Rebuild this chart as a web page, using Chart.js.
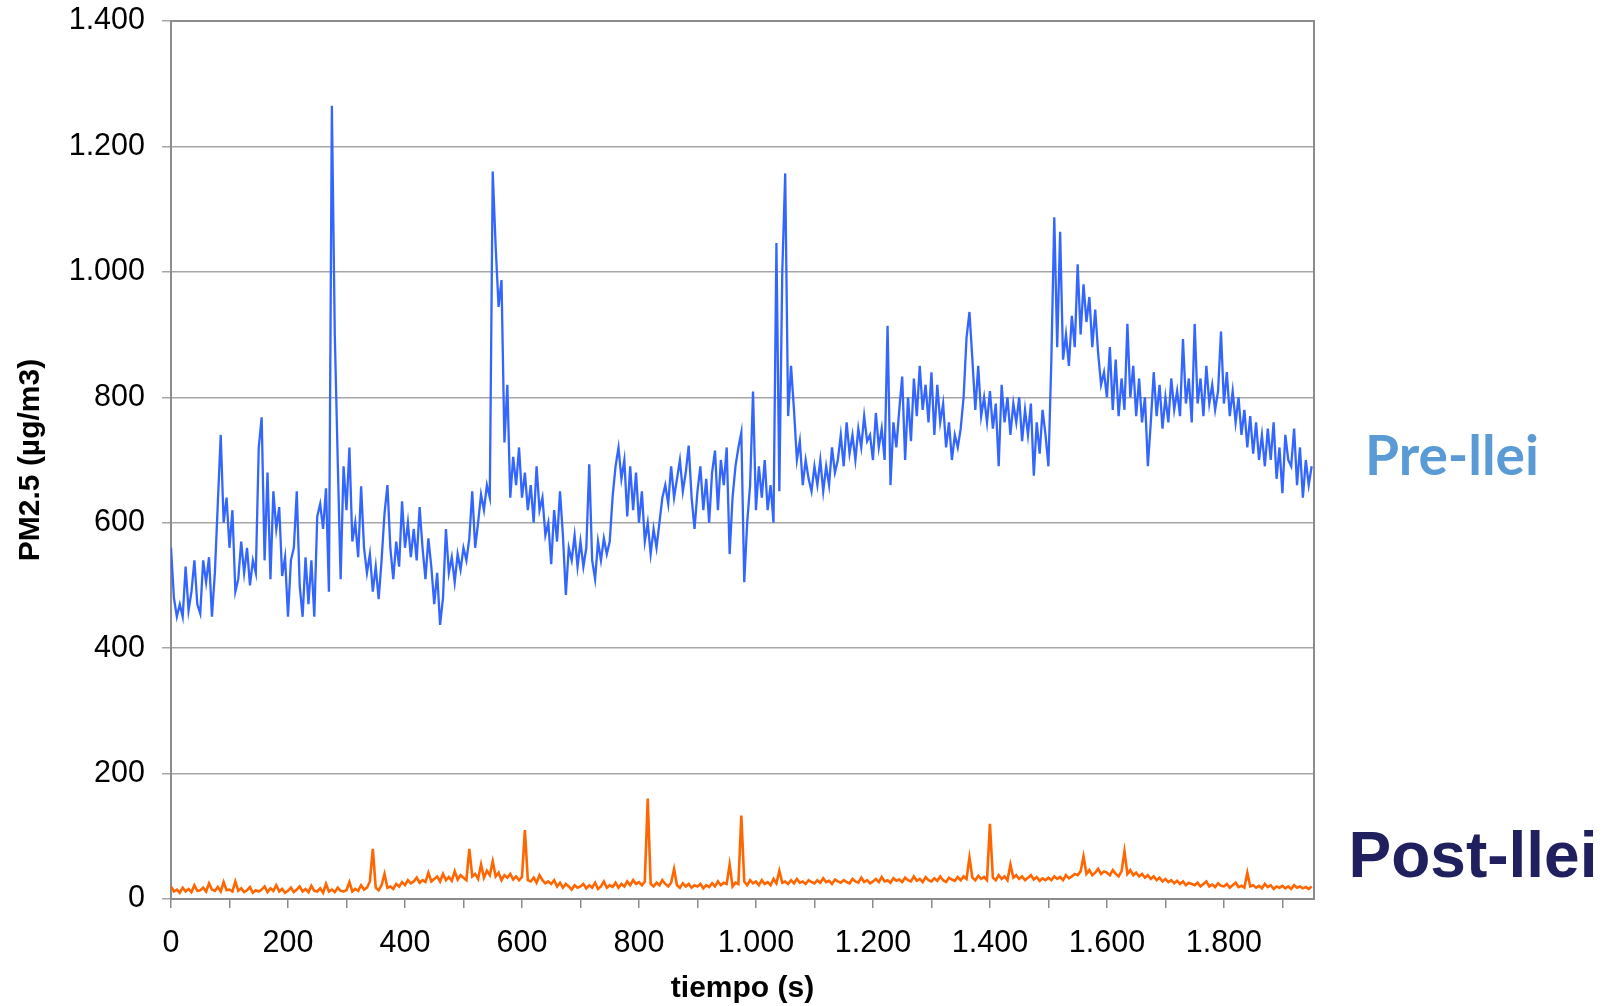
<!DOCTYPE html>
<html>
<head>
<meta charset="utf-8">
<script src="https://cdn.jsdelivr.net/npm/chart.js@4.4.1/dist/chart.umd.min.js"></script>
<style>
body { margin: 0; background: #fff; }
canvas { display: block; }
</style>
</head>
<body>
<canvas id="myChart" width="1612" height="1006"></canvas>
<script>
// seconds between samples
const step = 5

const preLlei = [
	560, 480, 450, 470, 450, 530, 460, 490, 540, 470,
	455, 540, 505, 545, 450, 520, 630, 740, 600, 640,
	560, 620, 490, 510, 570, 520, 560, 500, 540, 520,
	720, 768, 540, 680, 510, 650, 590, 625, 515, 545,
	450, 540, 560, 650, 500, 450, 545, 470, 540, 450,
	610, 630, 590, 655, 490, 1265, 900, 700, 510, 690,
	620, 720, 570, 600, 545, 658, 560, 520, 550, 490,
	530, 478, 540, 615, 660, 560, 510, 570, 530, 634,
	560, 600, 545, 590, 540, 625, 560, 510, 575, 530,
	470, 520, 437, 480, 590, 520, 545, 505, 550, 525,
	560, 540, 575, 650, 560, 600, 645, 620, 660, 640,
	1160, 1041, 944, 987, 728, 820, 640, 705, 660, 720,
	640, 680, 620, 660, 600, 690, 620, 640, 580, 600,
	534, 620, 570, 650, 580, 485, 560, 540, 580, 530,
	570, 530, 560, 693, 540, 510, 570, 540, 575, 550,
	570, 642, 690, 720, 670, 700, 610, 690, 620, 680,
	600, 650, 570, 600, 550, 590, 560, 600, 640, 660,
	630, 690, 640, 670, 700, 650, 680, 723, 640, 590,
	650, 690, 620, 670, 600, 680, 715, 620, 700, 660,
	720, 550, 640, 690, 720, 744, 505, 600, 660, 809,
	620, 690, 640, 700, 620, 660, 600, 1046, 650, 1000,
	1157, 770, 850, 780, 700, 730, 660, 700, 670, 650,
	690, 660, 700, 650, 690, 660, 720, 680, 700, 740,
	690, 760, 710, 740, 700, 750, 720, 770, 730, 740,
	700, 775, 720, 750, 700, 914, 660, 760, 720, 780,
	833, 700, 800, 730, 830, 770, 850, 780, 820, 760,
	840, 740, 820, 760, 790, 720, 760, 700, 740, 720,
	750, 800, 895, 936, 860, 780, 850, 770, 800, 760,
	810, 750, 790, 690, 820, 760, 800, 740, 790, 760,
	800, 730, 780, 740, 790, 675, 760, 710, 780, 740,
	690, 860, 1087, 880, 1064, 860, 900, 850, 930, 880,
	1012, 900, 980, 920, 960, 880, 940, 870, 820, 840,
	800, 880, 780, 860, 770, 830, 780, 917, 800, 850,
	770, 830, 760, 800, 690, 760, 840, 770, 820, 750,
	800, 760, 830, 780, 810, 770, 893, 790, 830, 760,
	917, 790, 830, 770, 850, 790, 820, 780, 810, 905,
	790, 840, 770, 810, 760, 800, 740, 780, 720, 770,
	710, 760, 700, 740, 690, 750, 700, 760, 670, 720,
	647, 740, 700, 690, 750, 660, 720, 640, 700, 660, 690
]

const postLlei = [
	20, 12, 15, 10, 18, 12, 16, 11, 22, 13,
	14, 18, 12, 25, 15, 13, 19, 12, 27, 14,
	15, 12, 28, 13, 17, 11, 14, 19, 10, 14,
	12, 15, 20, 11, 17, 13, 22, 12, 16, 10,
	13, 18, 11, 15, 20, 12, 16, 11, 21, 13,
	12, 17, 10, 24, 12, 15, 11, 18, 13, 12,
	14, 27, 12, 16, 13, 22, 15, 18, 28, 80,
	18, 14, 22, 40, 18, 20, 16, 24, 20, 27,
	22, 30, 25, 28, 34, 26, 30, 27, 42, 28,
	32, 36, 28, 40, 30, 35, 29, 44, 31, 38,
	34, 30, 80, 36, 40, 32, 55, 34, 45, 38,
	60, 36, 42, 30, 38, 34, 40, 31, 36, 30,
	35, 110, 30, 28, 34, 26, 38, 30, 25, 28,
	24, 30, 20, 26, 18, 24, 20, 15, 22, 18,
	20, 24, 17, 22, 18, 26, 16, 20, 28, 18,
	22, 19, 26, 18, 24, 20, 28, 22, 30, 24,
	27, 22, 28, 160, 24, 20, 26, 22, 30, 24,
	20, 26, 48, 22, 18, 25, 20, 24, 18, 22,
	20, 24, 17, 22, 19, 25, 20, 28, 22, 26,
	24, 55, 20, 26, 24, 133, 28, 22, 30, 25,
	28, 22, 30, 24, 27, 22, 32, 25, 45, 26,
	28, 24, 30, 25, 32, 26, 28, 24, 30, 27,
	25, 30, 26, 33, 27, 29, 24, 31, 28, 26,
	30, 27, 25, 32, 28, 26, 34, 27, 30, 25,
	28, 32, 27, 35, 28, 30, 26, 33, 29, 31,
	27, 34, 30, 28, 36, 29, 32, 27, 35, 30,
	28, 33, 29, 36, 30, 27, 34, 31, 29, 35,
	30, 36, 32, 66, 34, 30, 37, 32, 35, 30,
	120, 34, 30, 38, 32, 36, 30, 55, 34, 38,
	32, 36, 30, 34, 38, 31, 35, 29, 33, 30,
	34, 30, 36, 32, 35, 30, 38, 33, 36, 40,
	38, 44, 68, 40, 46, 38, 42, 48, 40, 44,
	42, 38, 46, 40, 36, 44, 76, 40, 46, 38,
	42, 36, 40, 34, 38, 32, 36, 30, 34, 28,
	32, 27, 30, 25, 29, 24, 28, 22, 26, 24,
	22, 26, 20, 24, 28, 20, 23, 19, 25, 21,
	20, 24, 18, 22, 26, 19, 21, 18, 42, 20,
	22, 18, 21, 17, 24, 19, 22, 16, 20, 18,
	21, 17, 20, 16, 22, 18, 20, 17, 19, 16, 20
]

const xMax = 1954
const yTicks = [0, 200, 400, 600, 800, 1000, 1200, 1400]

function toPoints(values) {
	return values.map((v, i) => ({ x: i * step, y: v }))
}

function fmt(v) {
	return String(v).replace(/\B(?=(\d{3})+(?!\d))/g, '.')
}

const fontFamily = "'Liberation Sans', Arial, sans-serif"
Chart.defaults.color = '#000'
Chart.defaults.font.family = fontFamily

const frame = {
	id: 'frame',
	beforeDatasetsDraw(chart) {
		const a = chart.chartArea
		const ctx = chart.ctx
		ctx.save()
		ctx.strokeStyle = '#8c8c8c'
		ctx.lineWidth = 2
		ctx.strokeRect(a.left, a.top, a.right - a.left, a.bottom - a.top)
		ctx.restore()
	}
}

const sideLabels = {
	id: 'sideLabels',
	afterDraw(chart) {
		const ctx = chart.ctx
		ctx.save()
		ctx.textAlign = 'center'
		ctx.textBaseline = 'alphabetic'
		ctx.fillStyle = '#5B9BD5'
		ctx.font = "bold 55px Lato, 'Open Sans', sans-serif"
		ctx.fillText('Pre-llei', 1452, 475)
		ctx.fillStyle = '#20205f'
		ctx.font = "bold 64px " + fontFamily
		ctx.fillText('Post-llei', 1473, 877)
		ctx.restore()
	}
}

const ctx = document.getElementById('myChart')
var chart = new Chart(ctx, {
	type: 'line',
	data: {
		datasets: [{
			label: 'Pre-llei',
			data: toPoints(preLlei),
			borderColor: '#3366FF',
			borderWidth: 2.3,
			pointRadius: 0,
			fill: false
		}, {
			label: 'Post-llei',
			data: toPoints(postLlei),
			borderColor: '#FF6600',
			borderWidth: 2.6,
			pointRadius: 0,
			fill: false
		}]
	},
	options: {
		responsive: false,
		devicePixelRatio: 1,
		animation: false,
		layout: { padding: { top: 21, right: 298, left: 0, bottom: 0 } },
		plugins: {
			legend: { display: false },
			tooltip: { enabled: false }
		},
		scales: {
			x: {
				type: 'linear',
				min: 0,
				max: xMax,
				afterFit: function (scale) {
					scale.height = 107
					scale.paddingLeft = 0
					scale.paddingRight = 0
				},
				grid: { drawOnChartArea: false, drawTicks: true, tickLength: 9, color: '#8c8c8c', lineWidth: 1.5 },
				border: { display: false },
				ticks: {
					stepSize: 100,
					includeBounds: false,
					autoSkip: false,
					maxRotation: 0,
					padding: 17,
					font: { size: 30.5 },
					callback: function (v) { return v % 200 === 0 ? fmt(v) : '' }
				},
				title: {
					display: true,
					text: 'tiempo (s)',
					font: { size: 30, weight: 'bold', lineHeight: 1.0 },
					padding: { top: 0, bottom: 2 }
				}
			},
			y: {
				min: 0,
				max: 1400,
				afterFit: function (scale) {
					scale.width = 171
					scale.paddingTop = 0
					scale.paddingBottom = 0
				},
				afterBuildTicks: function (scale) { scale.ticks = yTicks.map(v => ({ value: v })) },
				grid: { color: '#a6a6a6', lineWidth: 1.5, tickLength: 9 },
				border: { display: false },
				ticks: {
					padding: 17,
					font: { size: 30.5 },
					callback: function (v) { return fmt(v) }
				},
				title: {
					display: true,
					text: 'PM2.5 (µg/m3)',
					font: { size: 30, weight: 'bold', lineHeight: 1.0 },
					padding: { top: 16, bottom: 0 }
				}
			}
		}
	},
	plugins: [frame, sideLabels]
})
</script>
</body>
</html>
